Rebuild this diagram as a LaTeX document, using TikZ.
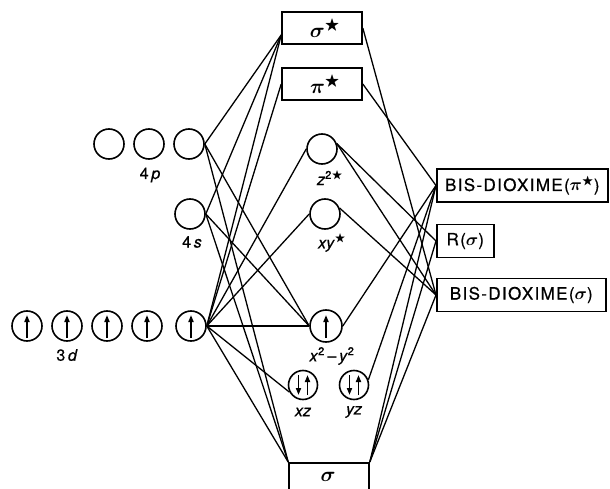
\documentclass[tikz,border=0pt]{standalone}
\usepackage{amsmath,amssymb}
\usepackage{fontspec}
\setmainfont[FakeBold=0.7]{TeX Gyre Heros}
\newfontfamily\boxfont[LetterSpace=8,FakeBold=0.7]{TeX Gyre Heros}
\usetikzlibrary{arrows.meta}
\newcommand{\st}{$^{\scriptstyle\bigstar}$}
\newcommand{\gs}{$\boldsymbol{\sigma}$}
\newcommand{\gp}{$\boldsymbol{\pi}$}

\begin{document}
\begin{tikzpicture}[x=1pt,y=-1pt,
  orb/.style={circle, draw, line width=1.6pt, minimum size=30pt, inner sep=0pt},
  mobox/.style={draw, line width=1.6pt, minimum width=80pt, minimum height=32pt,
                inner sep=0pt, font=\fontsize{22}{22}\selectfont},
  ligbox/.style={draw, line width=1.6pt, minimum height=33pt, inner sep=0pt,
                 font=\boxfont\fontsize{17}{17}\selectfont},
  lbl/.style={font=\fontsize{16}{16}\selectfont},
  link/.style={line width=1.3pt},
  spin/.style={line width=1.7pt, -{Triangle[length=7pt,width=5pt]}}
]
\useasboundingbox (0,0) rectangle (610,489);
\clip (0,0) rectangle (610,489);

% metal atomic orbitals
\node[orb] (p1) at (109,144) {};
\node[orb] (p2) at (149,144) {};
\node[orb] (p3) at (189,144) {};
\node[lbl] at (150,175) {4\,\textit{p}};
\node[orb] (s4) at (190,214) {};
\node[lbl] at (192,242) {4\,\textit{s}};
\node[orb] (d1) at (27,326) {};
\node[orb] (d2) at (67,326) {};
\node[orb] (d3) at (107,326) {};
\node[orb] (d4) at (147,326) {};
\node[orb] (d5) at (191,326) {};
\node[lbl] at (67,355) {3\,\textit{d}};
\foreach \c in {d1,d2,d3,d4,d5}
  \draw[spin] (\c.center) ++(0,12) -- ++(0,-23);

% molecular orbitals
\node[mobox] (sigs) at (322,28) {\hspace{6pt}\gs\st};
\node[mobox] (pis)  at (322,84) {\hspace{6pt}\gp\st};
\node[orb] (z2) at (322,149) {};
\node[lbl] at (330,178) {\textit{z}\textsuperscript{2}\st};
\node[orb] (xy) at (325,214) {};
\node[lbl] at (332,243) {\textit{xy}\st};
\node[orb, minimum size=32pt] (x2) at (326,326) {};
\draw[spin] (x2.center) ++(0,12) -- ++(0,-23);
\node[lbl] at (332,356) {\textit{x}\textsuperscript{2}\,–\,\textit{y}\textsuperscript{2}};
\node[orb, minimum size=29pt] (xz) at (303,385) {};
\node[orb, minimum size=29pt] (yz) at (354,385) {};
\foreach \c in {xz,yz}{
  \draw[spin] (\c.center) ++(-4.5,-10) -- ++(0,20);
  \draw[spin] (\c.center) ++(4.5,10) -- ++(0,-20);
}
\node[lbl] at (303,412) {\textit{xz}};
\node[lbl] at (354,412) {\textit{yz}};
\node[mobox, minimum height=40pt, anchor=north] (sigb) at (329,462) {};
\node[font=\fontsize{22}{22}\selectfont] at (328,477) {\gs};

% ligand orbitals
\node[ligbox, minimum width=171pt, anchor=west] (bpi) at (436,185.5) {BIS-DIOXIME(\gp\st)};
\node[ligbox, minimum width=57pt, anchor=west] (rsig) at (436,241) {R(\gs)};
\node[ligbox, minimum width=169pt, anchor=west] (bsig) at (436,295) {BIS-DIOXIME(\gs)};

% attachment point on the lower left of the top box
\coordinate (sigsL) at ([yshift=-7pt]sigs.west);

% metal side
\draw[link] (p3.east) -- (sigsL);
\draw[link] (p3.east) -- (x2.west);
\draw[link] (p3.east) -- (sigb.north west);
\draw[link] (s4.east) -- (sigsL);
\draw[link] (s4.east) -- (x2.west);
\draw[link] (s4.east) -- (sigb.north west);
\draw[link] (d5.east) -- (sigsL);
\draw[link] (d5.east) -- (pis.west);
\draw[link] (d5.east) -- (z2.west);
\draw[link] (d5.east) -- (xy.west);
\draw[link] (d5.east) -- (x2.west);
\draw[link] (d5.east) -- (xz.208);
\draw[link] (d5.east) -- (sigb.north west);

% ligand side
\draw[link] (sigs.east) -- (bsig.west);
\draw[link] (pis.east) -- (bpi.west);
\draw[link] (z2.20) -- (rsig.west);
\draw[link] (z2.20) -- (bsig.west);
\draw[link] (xy.22) -- (bsig.west);
\draw[link] (x2.east) -- (bpi.west);
\draw[link] (yz.20) -- (bpi.west);
\draw[link] (sigb.north east) -- (bpi.west);
\draw[link] (sigb.north east) -- (rsig.west);
\draw[link] (sigb.north east) -- (bsig.west);
\end{tikzpicture}
\end{document}
